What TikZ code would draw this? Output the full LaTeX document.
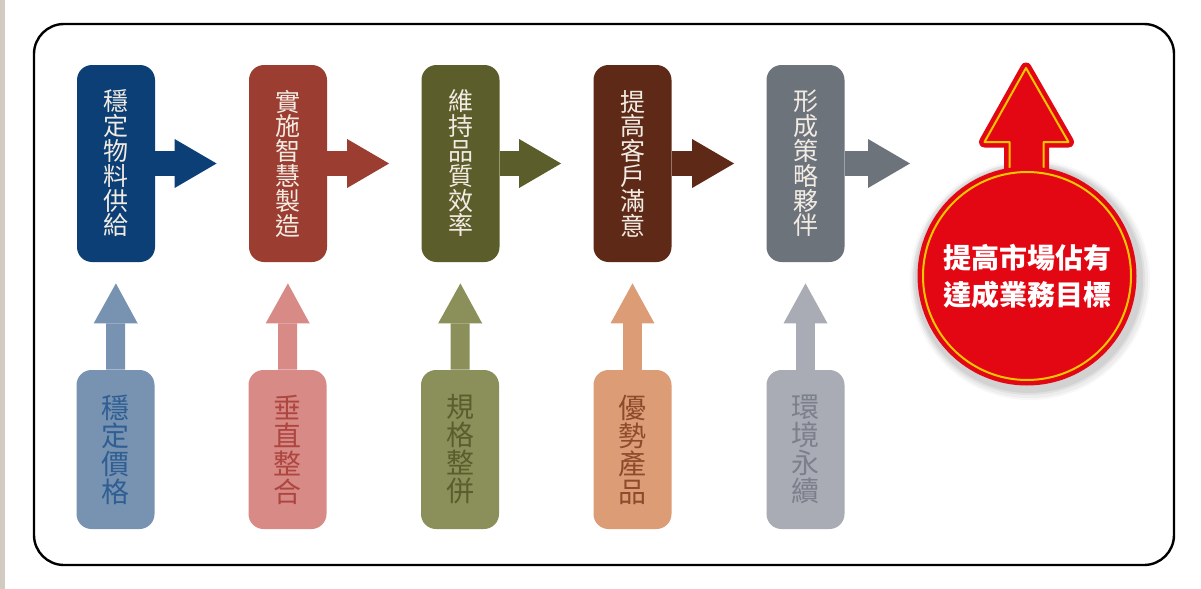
\documentclass[tikz,border=0pt]{standalone}
\usepackage{fontspec}
\newfontfamily\cjk{Noto Sans CJK TC}
\usetikzlibrary{arrows.meta}
\definecolor{navyA}{HTML}{0B3F75}
\definecolor{rustA}{HTML}{9B3D30}
\definecolor{oliveA}{HTML}{5B5E2A}
\definecolor{brownA}{HTML}{5E2A17}
\definecolor{slateA}{HTML}{6C737B}
\definecolor{navyB}{HTML}{7893B2}
\definecolor{rustB}{HTML}{D88A86}
\definecolor{oliveB}{HTML}{8B905A}
\definecolor{brownB}{HTML}{DC9C76}
\definecolor{slateB}{HTML}{A9ACB5}
\definecolor{navyC}{HTML}{2F5E93}
\definecolor{rustC}{HTML}{AE4640}
\definecolor{oliveC}{HTML}{5A5E2C}
\definecolor{brownC}{HTML}{8E4B2C}
\definecolor{slateC}{HTML}{7C808A}
\definecolor{toptext}{HTML}{F2EBE3}
\definecolor{goalred}{HTML}{E30613}
\definecolor{gold}{HTML}{F7C600}
\definecolor{stone}{HTML}{D2CBC1}
\begin{document}
\begin{tikzpicture}[x=0.5pt, y=-0.5pt,
    topbox/.style={rounded corners=7.5pt, minimum width=39pt, minimum height=98.5pt,
      inner sep=0pt, align=center, text=toptext, font=\cjk\fontsize{12.5}{12.4}\selectfont},
    lowbox/.style={rounded corners=7.5pt, minimum width=39pt, minimum height=79.5pt,
      inner sep=0pt, align=center, font=\cjk\fontsize{14}{14}\selectfont},
    harrow/.style={line width=12.5pt, shorten >=16pt,
      -{Triangle[width=24.5pt, length=21pt, line width=0pt]}},
    varrow/.style={line width=9.5pt, shorten >=10.5pt,
      -{Triangle[width=22pt, length=20pt, line width=0pt]}},
    goal/.style={circle, minimum size=104pt, inner sep=0pt, fill=goalred, draw=gold,
      line width=1pt, preaction={draw=goalred, line width=5.5pt}, align=center,
      text=white, font=\cjk\bfseries\fontsize{14}{18.5}\selectfont},
    goalarrow/.style={fill=goalred, draw=gold, line width=1pt, line join=round,
      preaction={draw=goalred, line width=5.5pt, line join=round}}]
  \useasboundingbox (0,0) rectangle (1201,589);
  \fill[white] (0,0) rectangle (1201,589);
  \fill[stone] (0,0) rectangle (5,589);
  \draw[line width=1.2pt, rounded corners=15pt] (34,24) rectangle (1174,565);
  % 上排
  \node[topbox, fill=navyA] (sup) at (116,163.5) {穩\\定\\物\\料\\供\\給};
  \node[topbox, fill=rustA] (mfg) at (288,163.5) {實\\施\\智\\慧\\製\\造};
  \node[topbox, fill=oliveA] (qual) at (460.5,163.5) {維\\持\\品\\質\\效\\率};
  \node[topbox, fill=brownA] (cust) at (632.5,163.5) {提\\高\\客\\戶\\滿\\意};
  \node[topbox, fill=slateA] (part) at (805.5,163.5) {形\\成\\策\\略\\夥\\伴};
  % 下排
  \node[lowbox, fill=navyB, text=navyC] (price) at (115.5,449.5) {穩\\定\\價\\格};
  \node[lowbox, fill=rustB, text=rustC] (vert) at (287.5,449.5) {垂\\直\\整\\合};
  \node[lowbox, fill=oliveB, text=oliveC] (spec) at (460,449.5) {規\\格\\整\\併};
  \node[lowbox, fill=brownB, text=brownC] (prod) at (632.5,449.5) {優\\勢\\產\\品};
  \node[lowbox, fill=slateB, text=slateC] (env) at (805.5,449.5) {環\\境\\永\\續};
  % 目標
  \coordinate (goalc) at (1027,276);
  \coordinate (goaltip) at (1026,68);
  \fill[black, opacity=0.03] (1030,280) circle[radius=60pt];
  \fill[black, opacity=0.04] (1030,280) circle[radius=59pt];
  \fill[black, opacity=0.05] (1029,279) circle[radius=58pt];
  \fill[black, opacity=0.06] (1029,279) circle[radius=57pt];
  \draw[goalarrow] ([xshift=-8.75pt]goalc) -- ++(0,-134) -- ++(-25,0) -- (goaltip)
    -- ++(42.5,74) -- ++(-25,0) -- ++(0,134) -- cycle;
  \node[goal] (goal) at (goalc) {提高市場佔有\\達成業務目標};
  % 橫向箭頭
  \draw[harrow, draw=navyA] (sup.east) -- (sup.east -| mfg.west);
  \draw[harrow, draw=rustA] (mfg.east) -- (mfg.east -| qual.west);
  \draw[harrow, draw=oliveA] (qual.east) -- (qual.east -| cust.west);
  \draw[harrow, draw=brownA] (cust.east) -- (cust.east -| part.west);
  \draw[harrow, draw=slateA, shorten >=6pt] (part.east) -- (part.east -| goal.west);
  % 向上箭頭
  \draw[varrow, draw=navyB] (price.north) -- (sup.south);
  \draw[varrow, draw=rustB] (vert.north) -- (mfg.south);
  \draw[varrow, draw=oliveB] (spec.north) -- (qual.south);
  \draw[varrow, draw=brownB] (prod.north) -- (cust.south);
  \draw[varrow, draw=slateB] (env.north) -- (part.south);
\end{tikzpicture}
\end{document}
